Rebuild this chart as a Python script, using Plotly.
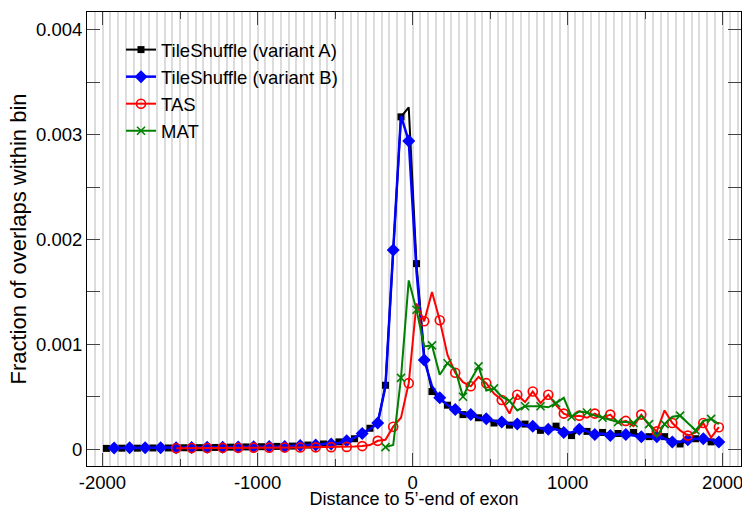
import numpy as np
import plotly.graph_objects as go

# ---- data -------------------------------------------------------------
bin_centers = list(range(-1975, 2000, 50))          # 80 bins of width 50

tile_a = [0.000008, 0.00001, 0.00001, 0.00001, 0.00001, 0.000012, 0.000012, 0.000012, 0.000012, 0.000013,
          0.000014, 0.000015, 0.000015, 0.000016, 0.000017, 0.000018, 0.00002, 0.000022, 0.000022, 0.000025,
          0.000024, 0.000025, 0.000027, 0.000028, 0.00003, 0.000034, 0.00004, 0.000043, 0.00005, 0.000055,
          0.00007, 0.00008, 0.0001, 0.00015, 0.0002, 0.00025, 0.00061, 0.0019, 0.00317, 0.00326,
          0.00177, 0.0009, 0.00055, 0.00048, 0.00042, 0.00037, 0.00033, 0.00032, 0.0003, 0.00028,
          0.00025, 0.00025, 0.00023, 0.00023, 0.00024, 0.00021, 0.00018, 0.00019, 0.00022, 0.00017,
          0.00013, 0.00018, 0.00017, 0.00015, 0.00016, 0.00014, 0.00015, 0.00014, 0.00016, 0.00013,
          0.00012, 0.00012, 0.00012, 0.00008, 0.00005, 0.00008, 0.0001, 0.0001, 0.00007, 0.00007]

# variant B starts at -1925
tile_b = [0.000012, 0.000012, 0.000013, 0.000013, 0.000013, 0.000014, 0.000014, 0.000015, 0.000015,
          0.000016, 0.000016, 0.000017, 0.000018, 0.000018, 0.00002, 0.00002, 0.000021, 0.000022, 0.000023,
          0.000024, 0.000025, 0.000025, 0.000025, 0.00003, 0.000035, 0.00004, 0.00004, 0.000048, 0.00005,
          0.00006, 0.00008, 0.00011, 0.00015, 0.00019, 0.00025, 0.0006, 0.0019, 0.00318, 0.00294,
          0.0017, 0.00085, 0.0006, 0.00049, 0.00042, 0.00038, 0.00034, 0.00033, 0.0003, 0.00029,
          0.00027, 0.00026, 0.00024, 0.00024, 0.00023, 0.00022, 0.0002, 0.00019, 0.00019, 0.00016,
          0.00016, 0.00019, 0.00017, 0.00014, 0.00015, 0.00013, 0.00014, 0.00014, 0.00013, 0.00012,
          0.00012, 0.00012, 0.0001, 0.00007, 0.00007, 0.00009, 0.0001, 0.0001, 0.00009, 0.00007]

# TAS starts at -1525
tas = [0.00001, 0.00001, 0.000012, 0.000012, 0.000012, 0.000012, 0.000013, 0.000013, 0.000014, 0.000014,
       0.000015, 0.000015, 0.000015, 0.000016, 0.000016, 0.000017, 0.000017, 0.000018, 0.000018, 0.00002,
       0.00002, 0.000022, 0.000022, 0.000025, 0.00003, 0.00004, 0.00008, 0.00009, 0.000215, 0.0003,
       0.00063, 0.00139, 0.00122, 0.0015, 0.00123, 0.0009, 0.00073, 0.00064, 0.0006, 0.00069,
       0.00063, 0.00053, 0.00047, 0.00034, 0.00052, 0.00045, 0.00055, 0.00044, 0.00052, 0.00042,
       0.00034, 0.00031, 0.00032, 0.0003, 0.00034, 0.0003, 0.00033, 0.00025, 0.00027, 0.00022,
       0.00033, 0.00023, 0.00017, 0.00037, 0.00025, 0.00018, 0.00013, 0.00016, 0.00025, 0.00011, 0.00021]

# MAT starts at -175
mat = [0.00002, 0.00004, 0.00068, 0.00161, 0.00133, 0.00098, 0.00099, 0.00071, 0.00082, 0.00076,
       0.0005, 0.00066, 0.00079, 0.00056, 0.00058, 0.0005, 0.00046, 0.00037, 0.00041, 0.00041,
       0.00041, 0.0004, 0.00044, 0.00049,
       0.00031, 0.00036, 0.00035, 0.00032, 0.0003, 0.00028, 0.00026, 0.00026, 0.00025, 0.00032,
       0.00024, 0.00012, 0.00024, 0.00031, 0.00032, 0.00025, 0.00018, 0.00027, 0.00029, 0.00024]

series_names = ["TileShuffle (variant A)", "TileShuffle (variant B)", "TAS", "MAT"]
series_start = [-1975, -1925, -1525, -175]
series_vals = [tile_a, tile_b, tas, mat]

x_tick_vals = [-2000, -1000, 0, 1000, 2000]
x_tick_text = ["-2000", "-1000", "0", "1000", "2000"]
y_tick_vals = [0, 0.001, 0.002, 0.003, 0.004]
y_tick_text = ["0", "0.001", "0.002", "0.003", "0.004"]

# ---- styles -----------------------------------------------------------
styles = [
    dict(color="#000000", lw=2, symbol="square", size=7, open=False),
    dict(color="#0000ff", lw=2.5, symbol="diamond", size=10, open=False),
    dict(color="#ff0000", lw=2, symbol="circle-open", size=9, open=True),
    dict(color="#008000", lw=2, symbol="x-thin-open", size=8, open=True),
]

fig = go.Figure()
for name, start, vals, st in zip(series_names, series_start, series_vals, styles):
    xs = np.arange(len(vals)) * 50 + start
    ys = np.array(vals)
    fig.add_trace(go.Scatter(x=xs, y=ys, mode="lines", showlegend=False,
                             line=dict(color=st["color"], width=st["lw"])))
    marker = dict(symbol=st["symbol"], size=st["size"], color=st["color"],
                  line=dict(color=st["color"], width=1.6 if st["open"] else 0))
    fig.add_trace(go.Scatter(x=xs[::2], y=ys[::2], mode="markers", showlegend=False,
                             marker=marker))
    fig.add_trace(go.Scatter(x=[None], y=[None], mode="lines+markers", name=name,
                             line=dict(color=st["color"], width=st["lw"]), marker=marker))

FONT = "Liberation Sans, Arial, sans-serif"
fig.update_layout(
    width=742, height=509,
    margin=dict(l=87, r=1, t=12, b=43, autoexpand=False),
    paper_bgcolor="white", plot_bgcolor="white",
    font=dict(family=FONT, size=18.5, color="black"),
    showlegend=True,
    legend=dict(x=0.052, y=0.958, xanchor="left", yanchor="top",
                bgcolor="rgba(0,0,0,0)", font=dict(size=18.5), tracegroupgap=0),
    xaxis=dict(range=[-2100, 2118], tickmode="array", tickvals=x_tick_vals, ticktext=x_tick_text,
               ticks="inside", ticklen=13, tickwidth=1, tickcolor="#444",
               minor=dict(dtick=500, tick0=0, ticks="inside", ticklen=7, tickcolor="#444", showgrid=False),
               showgrid=False, zeroline=False, showline=True, linecolor="black", linewidth=1,
               mirror="allticks", automargin=True, ticklabeloverflow="allow",
               title=dict(text="Distance to 5\u2019-end of exon", standoff=3, font=dict(size=18))),
    xaxis2=dict(overlaying="x", matches="x", range=[-2100, 2118], tickmode="linear", tick0=0, dtick=50,
                showgrid=True, gridcolor="#dcdcdc", gridwidth=2, showticklabels=False, ticks="",
                zeroline=False, showline=False, automargin=False),
    yaxis=dict(range=[-0.00016, 0.00417], tickmode="array", tickvals=y_tick_vals, ticktext=y_tick_text,
               ticks="inside", ticklen=13, tickwidth=1, tickcolor="#444",
               minor=dict(dtick=0.0005, tick0=0, ticks="inside", ticklen=7, tickcolor="#444", showgrid=False),
               showgrid=False, zeroline=False, showline=True, linecolor="black", linewidth=1,
               mirror="allticks", automargin=False, ticklabeloverflow="allow",
               title=dict(text="Fraction of overlaps within bin", standoff=3)),
)
# hidden trace on xaxis2 so its grid is drawn (placed first, under the data)
fig.add_trace(go.Scatter(x=[None], y=[None], xaxis="x2", yaxis="y", showlegend=False, hoverinfo="skip"))
fig.data = (fig.data[-1],) + fig.data[:-1]

fig.write_html("out.html")
